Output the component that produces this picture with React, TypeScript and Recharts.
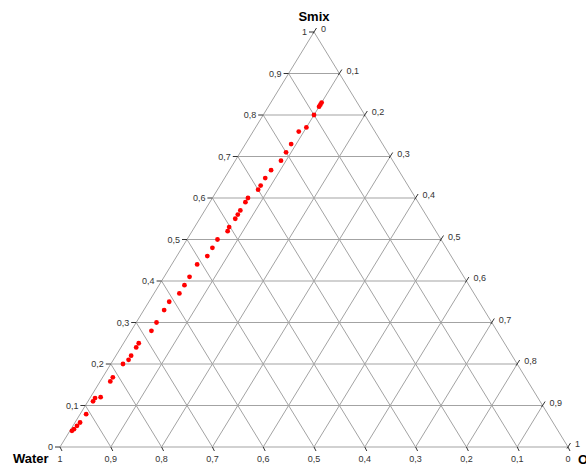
import { ReferenceDot, ReferenceLine, Scatter, ScatterChart, XAxis, YAxis } from "recharts";

// ternary axis ticks (same for all three sides)
const TICKS = [0, 0.1, 0.2, 0.3, 0.4, 0.5, 0.6, 0.7, 0.8, 0.9, 1];
const TICK_LABELS = ["0", "0,1", "0,2", "0,3", "0,4", "0,5", "0,6", "0,7", "0,8", "0,9", "1"];

// measured compositions (fractions), water = 1 - smix - oil
const SMIX = [
    0.83, 0.825, 0.82, 0.8, 0.77, 0.76, 0.73, 0.71, 0.69, 0.667, 0.648, 0.63, 0.62, 0.6, 0.59, 0.57,
    0.56, 0.55, 0.53, 0.52, 0.5, 0.48, 0.46, 0.44, 0.41, 0.39, 0.37, 0.35, 0.33, 0.3, 0.28, 0.25,
    0.24, 0.22, 0.21, 0.2, 0.168, 0.158, 0.12, 0.118, 0.11, 0.079, 0.059, 0.051, 0.043, 0.039,
];
const OIL = [
    0.1, 0.1, 0.1, 0.1, 0.1, 0.09, 0.09, 0.09, 0.09, 0.082, 0.08, 0.08, 0.08, 0.07, 0.07, 0.07,
    0.07, 0.07, 0.068, 0.07, 0.06, 0.06, 0.06, 0.05, 0.05, 0.05, 0.05, 0.04, 0.04, 0.04, 0.04, 0.03,
    0.03, 0.03, 0.03, 0.024, 0.02, 0.02, 0.02, 0.01, 0.01, 0.012, 0.01, 0.008, 0.006, 0.004,
];

const GRID = "#a3a3a3";
const TICK_COLOR = "#333";
const FONT = "'Liberation Sans', Arial, sans-serif";

// ternary -> cartesian: x runs along the base (oil corner at 1), y is smix
const toXY = (smix: number, oil: number) => ({ x: oil + smix / 2, y: smix });

const points = SMIX.map((s, i) => ({ ...toXY(s, OIL[i]), smix: s, oil: OIL[i], water: 1 - s - OIL[i] }));

type Seg = [{ x: number; y: number }, { x: number; y: number }];

const inner = TICKS.slice(1, -1);
const gridSegments: Seg[] = [
    // triangle
    [toXY(0, 0), toXY(0, 1)],
    [toXY(0, 0), toXY(1, 0)],
    [toXY(0, 1), toXY(1, 0)],
    // constant smix
    ...inner.map((s): Seg => [toXY(s, 0), toXY(s, 1 - s)]),
    // constant oil
    ...inner.map((o): Seg => [toXY(0, o), toXY(1 - o, o)]),
    // constant water
    ...inner.map((w): Seg => [toXY(0, 1 - w), toXY(1 - w, 0)]),
];

function LeftTick(props: any) {
    const { cx, cy, label } = props;
    return (
        <g>
            <line x1={cx - 5} y1={cy} x2={cx} y2={cy} stroke={TICK_COLOR} />
            <text x={cx - 7} y={cy + 3} textAnchor="end" fontSize={9} fontFamily={FONT} fill={TICK_COLOR}>
                {label}
            </text>
        </g>
    );
}

function RightTick(props: any) {
    const { cx, cy, label } = props;
    return (
        <g>
            <line x1={cx - 1} y1={cy + 1.5} x2={cx + 2.5} y2={cy - 4} stroke={TICK_COLOR} />
            <text x={cx + 7} y={cy} textAnchor="start" fontSize={9} fontFamily={FONT} fill={TICK_COLOR}>
                {label}
            </text>
        </g>
    );
}

function BottomTick(props: any) {
    const { cx, cy, label } = props;
    return (
        <g>
            <line x1={cx} y1={cy} x2={cx + 2} y2={cy + 4} stroke={TICK_COLOR} />
            <text x={cx} y={cy + 15} textAnchor="middle" fontSize={9} fontFamily={FONT} fill={TICK_COLOR}>
                {label}
            </text>
        </g>
    );
}

function Title(props: any) {
    const { cx, cy, label, dx, dy, anchor } = props;
    return (
        <text x={cx + dx} y={cy + dy} textAnchor={anchor} fontSize={13} fontWeight="bold" fontFamily={FONT} fill="#000">
            {label}
        </text>
    );
}

function RedDot(props: any) {
    return <circle cx={props.cx} cy={props.cy} r={2.4} fill="#ff0000" />;
}

export default function App() {
    return (
        <div style={{ position: "absolute", left: 0, top: 0, width: 586, height: 466, background: "#fff", overflow: "hidden" }}>
            <ScatterChart width={586} height={466} margin={{ top: 32, right: 18, bottom: 19, left: 60 }}>
                <XAxis type="number" dataKey="x" domain={[0, 1]} hide allowDataOverflow />
                <YAxis type="number" dataKey="y" domain={[0, 1]} hide allowDataOverflow />
                {gridSegments.map((seg, i) => (
                    <ReferenceLine key={`g${i}`} segment={seg} stroke={GRID} strokeWidth={1} ifOverflow="visible" />
                ))}
                {TICKS.map((v, i) => {
                    const p = toXY(v, 0);
                    return (
                        <ReferenceDot key={`l${i}`} x={p.x} y={p.y} r={0} ifOverflow="visible"
                            shape={(sp: any) => <LeftTick {...sp} label={TICK_LABELS[i]} />} />
                    );
                })}
                {TICKS.map((v, i) => {
                    const p = toXY(1 - v, v);
                    return (
                        <ReferenceDot key={`r${i}`} x={p.x} y={p.y} r={0} ifOverflow="visible"
                            shape={(sp: any) => <RightTick {...sp} label={TICK_LABELS[i]} />} />
                    );
                })}
                {TICKS.map((v, i) => {
                    const p = toXY(0, 1 - v);
                    return (
                        <ReferenceDot key={`b${i}`} x={p.x} y={p.y} r={0} ifOverflow="visible"
                            shape={(sp: any) => <BottomTick {...sp} label={TICK_LABELS[i]} />} />
                    );
                })}
                <ReferenceDot x={0.5} y={1} r={0} ifOverflow="visible"
                    shape={(sp: any) => <Title {...sp} label="Smix" dx={0} dy={-11} anchor="middle" />} />
                <ReferenceDot x={0} y={0} r={0} ifOverflow="visible"
                    shape={(sp: any) => <Title {...sp} label="Water" dx={-47} dy={16} anchor="start" />} />
                <ReferenceDot x={1} y={0} r={0} ifOverflow="visible"
                    shape={(sp: any) => <Title {...sp} label="Oil" dx={10} dy={17} anchor="start" />} />
                <Scatter data={points} dataKey="y" shape={RedDot} isAnimationActive={false} />
            </ScatterChart>
        </div>
    );
}
